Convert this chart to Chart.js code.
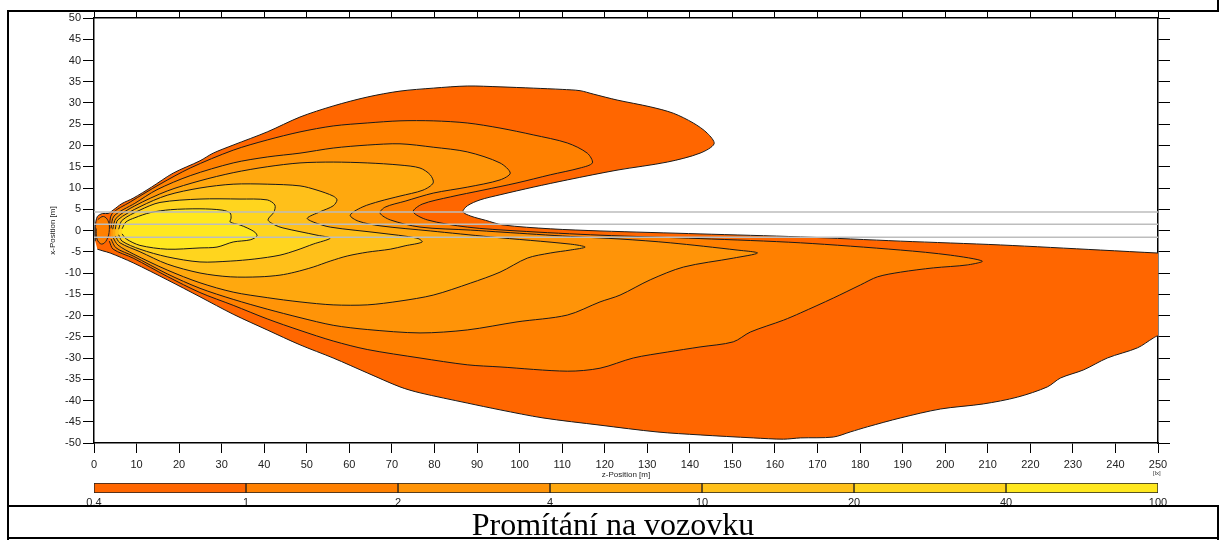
<!DOCTYPE html>
<html>
<head>
<meta charset="utf-8">
<title>Promítání na vozovku</title>
<script src="https://cdn.jsdelivr.net/npm/chart.js@4.4.1/dist/chart.umd.min.js"></script>
<style>
  body { margin: 0; background: #fff; }
  #page { position: relative; width: 1224px; height: 540px; overflow: hidden; background: #fff; }
  canvas { position: absolute; left: 0; }
  #main { top: 0; }
  #scale { top: 478px; }
  .rule { position: absolute; background: #000; z-index: 3; }
  #title {
    position: absolute; left: 9px; top: 507px; width: 1208px; height: 30px;
    line-height: 34px; text-align: center; color: #000; background: #fff; z-index: 2;
    font-family: "Liberation Serif", "Times New Roman", serif; font-size: 32px;
  }
  #unit { position: absolute; left: 1153px; top: 470px; font: 6px Arial, "Liberation Sans", sans-serif; color: #333; }
</style>
</head>
<body>
<div id="page">
  <canvas id="main" width="1224" height="480"></canvas>
  <canvas id="scale" width="1224" height="30"></canvas>
  <div id="unit">[lx]</div>
  <div class="rule" style="left:7px; top:10px; width:1212px; height:2px;"></div>
  <div class="rule" style="left:1217px; top:0; width:2px; height:11px;"></div>
  <div class="rule" style="left:7px; top:10px; width:2px; height:530px;"></div>
  <div class="rule" style="left:7px; top:505px; width:1212px; height:2px;"></div>
  <div class="rule" style="left:1217px; top:505px; width:2px; height:35px;"></div>
  <div class="rule" style="left:7px; top:537px; width:1212px; height:2px;"></div>
  <div id="title">Promítání na vozovku</div>
</div>
<script>
// illuminance levels [lx] and band colours of the scale
const levels = ['0.4', '1', '2', '4', '10', '20', '40', '100'];
const bandColors = ['#FF6600', '#FF8000', '#FF9408', '#FFA80E', '#FFC01A', '#FFD51E', '#FFE81F'];

// lane lines, x-position [m]
const laneY = [4.35, 1.45, -1.6];

// isolux contours, [z, x] in metres
const iso04 = [[0.3,-2.5],[0.3,1.0],[0.8,3.3],[2.0,4.0],[3.3,4.0],[4.5,4.8],[6.5,6.3],[9.2,7.6],[13.5,10.2],[18.6,13.5],[24.9,16.4],[28.0,18.2],[32.7,20.1],[40.7,23.2],[48.4,26.7],[56.2,29.3],[64.2,31.4],[71.9,32.8],[79.7,33.5],[87.7,34.0],[95.4,33.8],[103.2,33.5],[110,33.2],[114.2,32.9],[117.3,32.1],[122.9,30.7],[130.7,29.1],[136.1,27.6],[140.8,25.3],[144.1,22.9],[145.7,20.4],[142.4,18.2],[134.7,16.1],[122.9,14.2],[111.2,11.9],[103.2,10.2],[95.4,8.4],[90.7,7.2],[87.7,5.8],[86.7,4.4],[88.5,3.4],[92,2.4],[96.1,1.3],[107.2,0.4],[118.9,-0.1],[142.4,-0.8],[166,-1.5],[189.5,-2.5],[213,-3.4],[236.5,-4.6],[250,-5.3],[258,-5.6],[258,-24.8],[250,-24.8],[248.9,-25.3],[245.2,-27.6],[238.1,-30.0],[232.5,-32.8],[227.1,-34.7],[224,-36.8],[217,-39.2],[209,-40.8],[198.9,-42.0],[189.5,-44.1],[181.7,-46.2],[177.7,-47.4],[173.7,-48.6],[166,-48.8],[162,-49.1],[154.9,-48.8],[142.4,-48.1],[132.3,-47.4],[118.9,-45.8],[105.5,-44.1],[95.4,-42.2],[87.7,-40.6],[76.6,-38.2],[71.9,-36.8],[64.2,-33.5],[56.2,-30.0],[48.4,-26.9],[40.7,-23.4],[32.7,-19.7],[24.9,-15.6],[17.2,-11.6],[9.2,-7.6],[3.8,-5.3],[2.1,-4.8],[0.8,-4.4]];
const iso1 = [[3.6,0.5],[4.2,3.9],[8.5,6.7],[15.5,10.9],[22.6,14.7],[32.7,18.9],[40.7,21.3],[48.4,23.2],[56.2,24.6],[64.2,25.3],[71.9,25.8],[79.7,25.8],[87.7,25.3],[95.4,24.1],[103.2,22.5],[111.2,20.6],[115.9,18.2],[117.1,15.9],[114.2,14.7],[107.2,13.1],[99.4,11.2],[91.4,9.5],[83.7,7.9],[77.1,6.2],[75.0,4.4],[78.3,2.5],[87.7,0.8],[99.4,-0.1],[118.9,-1.1],[142.4,-1.9],[166,-2.9],[189.5,-4.6],[201.2,-5.8],[208.7,-7.2],[205.2,-8.1],[197.2,-8.8],[189.5,-9.8],[184.1,-10.9],[180.1,-12.8],[173.7,-15.9],[166,-19.4],[162,-21.1],[154.2,-23.9],[150.2,-26.2],[142.4,-27.4],[134.7,-28.6],[126.7,-30.0],[118.9,-32.4],[111.2,-33.1],[95.4,-32.1],[87.7,-31.6],[76.6,-30.0],[64.2,-28.0],[56.2,-26.0],[48.4,-23.5],[40.7,-20.8],[32.7,-17.6],[24.9,-14.6],[17.2,-10.8],[9.2,-6.5],[4.5,-4.4],[3.6,-2.5]];
const iso2 = [[4.0,0.5],[4.7,3.4],[9.6,6.4],[14.8,9.6],[22.6,12.9],[32.7,15.9],[40.7,17.3],[48.4,18.2],[56.2,19.4],[64.2,20.1],[71.9,20.4],[79.7,19.6],[87.7,18.5],[95.4,15.9],[97.8,13.5],[95.4,11.9],[87.7,10.2],[79.7,8.8],[73.1,6.9],[68.4,5.5],[67.2,4.1],[69.6,2.5],[76.6,0.8],[88.4,0.1],[96.1,-0.4],[111.9,-1.4],[123.6,-2.0],[135.4,-2.9],[151.1,-4.6],[155.9,-5.3],[150.2,-6.5],[138.5,-8.6],[130.7,-11.6],[123.6,-15.2],[118.9,-16.8],[111.2,-19.9],[99.4,-21.5],[87.7,-23.4],[76.6,-24.1],[64.2,-23.3],[56.2,-22.3],[48.4,-20.5],[40.7,-18.5],[32.7,-16.2],[24.9,-13.6],[17.2,-10.2],[9.2,-6.0],[5.2,-4.1],[4.0,-2.0]];
const iso4 = [[4.4,0.3],[5.2,2.9],[9.6,5.8],[17.2,9.3],[24.9,11.7],[32.7,13.6],[40.7,15.0],[48.4,15.9],[56.2,16.1],[64.2,15.9],[71.9,15.4],[76.6,14.7],[79.0,13.1],[79.7,11.2],[77.3,9.5],[71.9,8.1],[67.2,6.9],[63.0,5.5],[60.2,3.6],[62.1,2.2],[67.2,1.1],[79.0,-0.1],[93.1,-1.5],[111.9,-3.2],[115.4,-3.9],[111.9,-4.6],[107.2,-5.3],[101.8,-6.5],[95.4,-9.8],[88.4,-12.4],[79.7,-15.2],[71.9,-16.6],[64.2,-17.5],[56.2,-17.5],[48.4,-16.8],[40.7,-15.8],[32.7,-14.5],[24.9,-12.3],[17.2,-9.3],[9.2,-5.5],[5.6,-3.4],[4.4,-1.5]];
const iso10 = [[5.0,0.3],[5.6,2.5],[10.8,5.6],[17.2,8.3],[24.9,10.0],[32.7,10.9],[40.7,10.9],[48.4,10.5],[52.4,9.5],[56.2,8.1],[57.1,7.2],[56.2,5.8],[53.1,4.4],[50.1,2.9],[51.5,2.0],[55.5,0.8],[67.2,-0.6],[75.9,-1.8],[77.1,-2.7],[73.1,-3.6],[69.6,-4.4],[64.2,-5.1],[59.5,-6.0],[55.5,-7.2],[51.5,-8.6],[47.2,-9.8],[43.7,-10.5],[39.0,-10.9],[32.0,-10.9],[24.9,-10.0],[17.2,-7.9],[10.8,-5.0],[6.1,-2.9],[5.0,-1.3]];
const iso20 = [[5.8,0.3],[6.6,2.4],[10.8,4.8],[15.5,6.6],[24.9,7.4],[34.3,7.4],[40.7,7.2],[42.5,6.0],[42.3,4.4],[40.9,2.5],[42.5,1.3],[44.4,0.6],[52.4,-1.1],[55.5,-1.8],[51.5,-3.2],[47.7,-4.6],[43.7,-5.8],[37.8,-6.7],[32.0,-7.2],[24.9,-7.4],[17.2,-6.2],[10.8,-4.4],[6.6,-2.5],[5.8,-1.0]];
const iso40 = [[6.6,0.4],[7.5,2.0],[9.6,3.0],[13.2,4.2],[18,4.9],[24.9,5.1],[30.1,4.8],[32.0,4.1],[32.2,2.9],[32.0,2.0],[34.3,1.3],[36.0,0.6],[37.8,-0.4],[38.3,-1.3],[36.7,-2.2],[32.7,-2.7],[28.9,-3.9],[24.9,-4.1],[17.2,-4.4],[10.8,-3.5],[7.6,-2.0],[6.6,-0.8]];
// luminaire blob next to the origin
const lamp = [[0.9,2.6],[2.2,3.3],[3.3,2.3],[3.6,0.2],[3.0,-2.2],[1.8,-3.2],[0.7,-2.0],[0.5,0.5]];

Chart.defaults.font.family = 'Arial, "Liberation Sans", sans-serif';
Chart.defaults.color = '#222';

const contours = [iso04, iso1, iso2, iso4, iso10, iso20, iso40];
const toXY = arr => arr.map(p => ({ x: p[0], y: p[1] }));

// first dataset is painted last, so lanes go first and the outer band last
const datasets = [];
laneY.forEach(v => {
  datasets.push({
    data: [{ x: 0, y: v }, { x: 250, y: v }],
    borderColor: '#bdbdbd', borderWidth: 1.5, pointRadius: 0, fill: false, tension: 0
  });
});
datasets.push({
  data: toXY(lamp), backgroundColor: bandColors[1], borderColor: '#222',
  borderWidth: 1, pointRadius: 0, fill: 'shape', tension: 0.4
});
for (let i = contours.length - 1; i >= 0; i--) {
  datasets.push({
    data: toXY(contours[i]),
    backgroundColor: bandColors[i],
    borderColor: '#1a1a1a',
    borderWidth: 1,
    pointRadius: 0,
    fill: 'shape',
    tension: 0.3
  });
}

const tickGrid = len => ({ drawOnChartArea: false, drawTicks: true, tickLength: len, color: '#000', lineWidth: 1 });
const axisBorder = { display: true, color: '#000', width: 1.5 };

new Chart(document.getElementById('main'), {
  type: 'line',
  data: { datasets },
  options: {
    responsive: false,
    animation: false,
    events: [],
    layout: { padding: { left: 0, top: 11, right: 54, bottom: 0 } },
    plugins: { legend: { display: false }, tooltip: { enabled: false } },
    scales: {
      x: {
        type: 'linear', position: 'bottom', min: 0, max: 250,
        ticks: { stepSize: 10, padding: 5, font: { size: 11 }, maxRotation: 0, autoSkip: false },
        grid: tickGrid(10), border: axisBorder,
        title: { display: true, text: 'z-Position [m]', font: { size: 8 }, padding: { top: 0, bottom: 0 } },
        afterFit: s => { s.height = 37; }
      },
      y: {
        type: 'linear', position: 'left', min: -50, max: 50,
        ticks: { stepSize: 5, padding: 2, font: { size: 11 }, autoSkip: false },
        grid: tickGrid(11), border: axisBorder,
        title: { display: true, text: 'x-Position [m]', font: { size: 8 }, padding: { top: 48, bottom: 0 } },
        afterFit: s => { s.width = 94; }
      },
      xTop: {
        type: 'linear', position: 'top', min: 0, max: 250,
        ticks: { stepSize: 10, display: false },
        grid: tickGrid(7), border: axisBorder,
        afterFit: s => { s.height = 7; }
      },
      yRight: {
        type: 'linear', position: 'right', min: -50, max: 50,
        ticks: { stepSize: 5, display: false },
        grid: tickGrid(12), border: axisBorder,
        afterFit: s => { s.width = 12; }
      }
    }
  }
});

// colour scale below the plot
new Chart(document.getElementById('scale'), {
  type: 'bar',
  data: {
    labels: ['lx'],
    datasets: bandColors.map(c => ({
      data: [1], backgroundColor: c, borderColor: '#222', borderWidth: 1,
      borderSkipped: false, categoryPercentage: 1, barPercentage: 1
    }))
  },
  options: {
    indexAxis: 'y',
    responsive: false,
    animation: false,
    events: [],
    layout: { padding: { left: 94, right: 66, top: 5, bottom: 0 } },
    plugins: { legend: { display: false }, tooltip: { enabled: false } },
    scales: {
      x: {
        type: 'linear', stacked: true, min: 0, max: levels.length - 1,
        ticks: { stepSize: 1, padding: 3.5, font: { size: 11 }, autoSkip: false, maxRotation: 0,
                 callback: v => levels[v] },
        grid: { display: false, drawTicks: false },
        border: { display: false },
        afterFit: s => { s.height = 15; }
      },
      y: { stacked: true, display: false }
    }
  }
});
</script>
</body>
</html>
